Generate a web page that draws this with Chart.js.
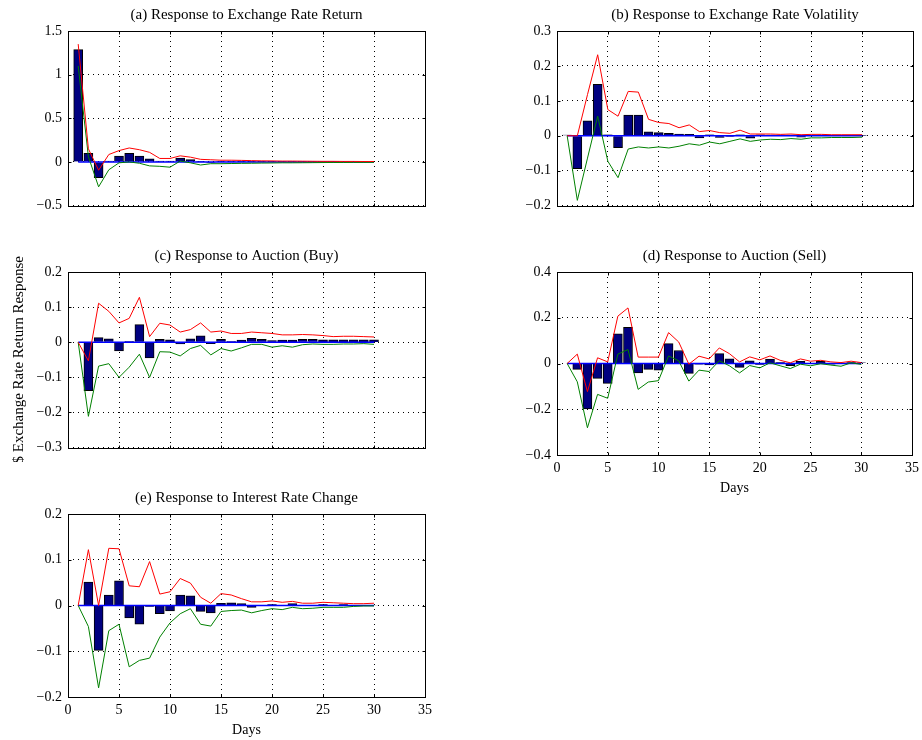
<!DOCTYPE html>
<html>
<head>
<meta charset="utf-8">
<script src="https://cdn.jsdelivr.net/npm/chart.js@4.4.1/dist/chart.umd.min.js"></script>
<style>
  html, body { margin: 0; padding: 0; background: #fff; overflow: hidden; }
  body { width: 922px; height: 740px; position: relative; }
  canvas { position: absolute; }
</style>
</head>
<body>
<canvas id="chartA" width="435" height="220" style="left:0;top:0"></canvas>
<canvas id="chartB" width="433" height="220" style="left:489px;top:0"></canvas>
<canvas id="chartC" width="435" height="221" style="left:0;top:241px"></canvas>
<canvas id="chartD" width="435" height="257" style="left:489px;top:241px"></canvas>
<canvas id="chartE" width="437" height="257" style="left:0;top:483px"></canvas>
<script>
// 1. Data (days 1..30)
const days = [1, 2, 3, 4, 5, 6, 7, 8, 9, 10, 11, 12, 13, 14, 15, 16, 17, 18, 19, 20, 21, 22, 23, 24, 25, 26, 27, 28, 29, 30];

// (a) exchange rate return
const retBars  = [1.286, 0.10, -0.18, 0.01, 0.066, 0.10, 0.066, 0.037, 0.01, 0.01, 0.044, 0.026, 0.006, -0.004, 0.006, 0.004, 0.003, 0.003, 0.002, 0.002, 0.002, 0.001, 0.001, 0.001, 0.001, 0.001, 0, 0, 0, 0];
const retUpper = [1.35, 0.15, -0.095, 0.085, 0.13, 0.16, 0.14, 0.11, 0.04, 0.04, 0.07, 0.055, 0.03, 0.025, 0.02, 0.02, 0.018, 0.015, 0.013, 0.012, 0.01, 0.01, 0.009, 0.008, 0.007, 0.007, 0.006, 0.006, 0.005, 0.005];
const retLower = [1.10, 0.06, -0.285, -0.09, -0.01, 0.0, -0.015, -0.045, -0.05, -0.06, 0.01, -0.01, -0.035, -0.02, -0.02, -0.018, -0.016, -0.015, -0.013, -0.012, -0.01, -0.01, -0.009, -0.008, -0.007, -0.006, -0.006, -0.005, -0.005, -0.004];

// (b) exchange rate volatility
const volBars  = [0.002, -0.094, 0.043, 0.147, 0.003, -0.034, 0.059, 0.059, 0.011, 0.009, 0.007, 0.005, 0.004, -0.006, 0.003, -0.005, -0.002, 0.003, -0.007, 0.003, 0.002, 0.002, 0.002, -0.004, 0.002, 0.002, 0.001, 0.001, 0.001, 0.001];
const volUpper = [0, 0, 0.118, 0.232, 0.075, 0.056, 0.127, 0.125, 0.047, 0.038, 0.035, 0.023, 0.031, 0.012, 0.015, 0.009, 0.007, 0.016, 0.005, 0.005, 0.005, 0.004, 0.005, 0.003, 0.004, 0.004, 0.003, 0.003, 0.003, 0.003];
const volLower = [0, -0.185, -0.064, 0.056, -0.073, -0.12, -0.038, -0.032, -0.035, -0.032, -0.035, -0.03, -0.023, -0.027, -0.018, -0.023, -0.016, -0.009, -0.016, -0.012, -0.01, -0.011, -0.008, -0.01, -0.006, -0.006, -0.005, -0.005, -0.005, -0.004];

// (c) auction (buy)
const buyBars  = [0, -0.138, 0.013, 0.010, -0.025, 0.002, 0.05, -0.045, 0.008, 0.007, -0.005, 0.01, 0.018, -0.004, 0.008, 0.002, 0.006, 0.011, 0.008, 0.005, 0.006, 0.006, 0.008, 0.008, 0.007, 0.007, 0.007, 0.007, 0.007, 0.007];
const buyUpper = [0, -0.053, 0.111, 0.088, 0.055, 0.068, 0.128, 0.016, 0.054, 0.049, 0.029, 0.036, 0.055, 0.029, 0.032, 0.025, 0.025, 0.029, 0.027, 0.025, 0.021, 0.021, 0.022, 0.021, 0.019, 0.016, 0.017, 0.017, 0.016, 0.015];
const buyLower = [0, -0.211, -0.068, -0.061, -0.1, -0.071, -0.034, -0.1, -0.027, -0.028, -0.039, -0.018, -0.009, -0.036, -0.018, -0.025, -0.016, -0.006, -0.006, -0.014, -0.01, -0.014, -0.007, -0.005, -0.006, -0.006, -0.005, -0.005, -0.004, -0.006];

// (d) auction (sell)
const sellBars  = [0, -0.026, -0.199, -0.065, -0.087, 0.13, 0.158, -0.041, -0.026, -0.029, 0.087, 0.057, -0.043, -0.003, -0.006, 0.043, 0.02, -0.017, 0.012, -0.004, 0.019, 0.004, -0.009, 0.01, -0.001, 0.009, -0.003, 0, 0.004, 0.003];
const sellUpper = [0, 0.041, -0.123, 0.025, 0.007, 0.207, 0.243, 0.028, 0.028, 0.028, 0.135, 0.094, -0.003, 0.032, 0.02, 0.068, 0.043, 0.007, 0.029, 0.016, 0.033, 0.014, 0.003, 0.02, 0.01, 0.014, 0.007, 0.004, 0.01, 0.004];
const sellLower = [0, -0.08, -0.281, -0.135, -0.152, 0.041, 0.061, -0.113, -0.081, -0.075, 0.033, 0.012, -0.077, -0.029, -0.035, 0.012, -0.01, -0.041, -0.009, -0.019, 0.003, -0.01, -0.022, -0.003, -0.01, -0.001, -0.007, -0.012, 0.003, -0.004];

// (e) interest rate change
const rateBars  = [0, 0.051, -0.098, 0.023, 0.054, -0.027, -0.041, -0.002, -0.018, -0.012, 0.023, 0.021, -0.013, -0.016, 0.005, 0.006, 0.004, -0.004, 0, 0.002, 0, 0.004, 0, 0, 0.002, 0.001, 0.002, 0.001, 0.001, 0.001];
const rateUpper = [0, 0.122, 0, 0.125, 0.124, 0.043, 0.041, 0.096, 0.025, 0.03, 0.059, 0.049, 0.018, 0.005, 0.026, 0.023, 0.015, 0.008, 0.008, 0.01, 0.007, 0.009, 0.005, 0.005, 0.007, 0.006, 0.005, 0.004, 0.004, 0.005];
const rateLower = [0, -0.046, -0.18, -0.055, -0.041, -0.134, -0.12, -0.115, -0.069, -0.038, -0.018, -0.007, -0.041, -0.045, -0.013, -0.011, -0.01, -0.016, -0.011, -0.007, -0.009, -0.004, -0.007, -0.006, -0.004, -0.004, -0.004, -0.002, -0.001, -0.001];

// 2. Shared styling
const FONT = 'Liberation Serif, Times New Roman, serif';
const tickFont = { family: FONT, size: 14 };
const fmt = v => {
    const r = Math.round(v * 100) / 100;
    return r < 0 ? '\u2212' + (-r) : String(r);
};
const pts = vals => days.map((d, i) => ({ x: d, y: vals[i] }));

// Box round the plot area plus inward tick marks (matlab look)
const boxPlugin = {
    id: 'box',
    afterDatasetsDraw(chart) {
        const { ctx, chartArea: a, scales } = chart;
        const L = Math.round(a.left) + 0.5, R = Math.round(a.right) + 0.5;
        const T = Math.round(a.top) + 0.5, B = Math.round(a.bottom) + 0.5;
        ctx.save();
        ctx.strokeStyle = '#000';
        ctx.lineWidth = 1;
        ctx.strokeRect(L, T, R - L, B - T);
        ctx.beginPath();
        scales.x.ticks.forEach(t => {
            const px = Math.round(scales.x.getPixelForValue(t.value)) + 0.5;
            ctx.moveTo(px, B); ctx.lineTo(px, B - 3);
            ctx.moveTo(px, T); ctx.lineTo(px, T + 3);
        });
        scales.y.ticks.forEach(t => {
            const py = Math.round(scales.y.getPixelForValue(t.value)) + 0.5;
            ctx.moveTo(L, py); ctx.lineTo(L + 3, py);
            ctx.moveTo(R, py); ctx.lineTo(R - 3, py);
        });
        ctx.stroke();
        ctx.restore();
    }
};

// 3. Chart creation helper
function createChart(id, o) {
    const ctx = document.getElementById(id).getContext('2d');
    return new Chart(ctx, {
        type: 'bar',
        data: {
            datasets: [
                { type: 'line', data: pts(o.upper), borderColor: '#ff0000', borderWidth: 1, pointRadius: 0, tension: 0, order: 1 },
                { type: 'line', data: pts(o.lower), borderColor: '#008000', borderWidth: 1, pointRadius: 0, tension: 0, order: 2 },
                { type: 'line', data: [{ x: days[0], y: 0 }, { x: days[days.length - 1], y: 0 }], borderColor: '#0000ff', borderWidth: 1.5, pointRadius: 0, order: 3 },
                { data: pts(o.bars), backgroundColor: '#000080', borderColor: '#000', borderWidth: 1, barThickness: 9, order: 4 }
            ]
        },
        options: {
            responsive: false,
            animation: false,
            layout: { autoPadding: false, padding: { left: 0, right: o.padRight, top: 0, bottom: 0 } },
            plugins: {
                legend: { display: false },
                tooltip: { enabled: false },
                title: {
                    display: true, text: o.title, color: '#000', fullSize: false,
                    font: { family: FONT, size: 15, weight: 'normal' },
                    padding: { top: 6, bottom: 7 }
                }
            },
            scales: {
                x: {
                    type: 'linear', min: 0, max: 35, offset: false,
                    ticks: { stepSize: 5, display: o.showX, color: '#000', font: tickFont, padding: 5, maxRotation: 0, callback: fmt },
                    grid: { color: '#000', lineWidth: 1, drawTicks: false, offset: false },
                    border: { display: false, dash: [1, 4] },
                    title: { display: o.showX, text: 'Days', color: '#000', font: tickFont, padding: { top: 0, bottom: 1 } },
                    afterFit: s => { s.height = o.showX ? 43 : 7; }
                },
                y: {
                    min: o.yMin, max: o.yMax,
                    ticks: { stepSize: o.yStep, color: '#000', font: tickFont, padding: 6, callback: fmt },
                    grid: { color: '#000', lineWidth: 1, drawTicks: false },
                    border: { display: false, dash: [1, 4] },
                    title: { display: !!o.yTitle, text: o.yTitle || '', color: '#000', font: { family: FONT, size: 15 }, padding: { top: 10, bottom: 0 } },
                    afterFit: s => { s.width = 68; }
                }
            }
        },
        plugins: [boxPlugin]
    });
}

// 4. The five panels
createChart('chartA', { title: '(a) Response to Exchange Rate Return', bars: retBars, upper: retUpper, lower: retLower, yMin: -0.5, yMax: 1.5, yStep: 0.5, showX: false, padRight: 10 });
createChart('chartB', { title: '(b) Response to Exchange Rate Volatility', bars: volBars, upper: volUpper, lower: volLower, yMin: -0.2, yMax: 0.3, yStep: 0.1, showX: false, padRight: 9 });
createChart('chartC', { title: '(c) Response to Auction (Buy)', bars: buyBars, upper: buyUpper, lower: buyLower, yMin: -0.3, yMax: 0.2, yStep: 0.1, showX: false, padRight: 10, yTitle: '$ Exchange Rate Return Response' });
createChart('chartD', { title: '(d) Response to Auction (Sell)', bars: sellBars, upper: sellUpper, lower: sellLower, yMin: -0.4, yMax: 0.4, yStep: 0.2, showX: true, padRight: 9 });
createChart('chartE', { title: '(e) Response to Interest Rate Change', bars: rateBars, upper: rateUpper, lower: rateLower, yMin: -0.2, yMax: 0.2, yStep: 0.1, showX: true, padRight: 10 });
</script>
</body>
</html>
